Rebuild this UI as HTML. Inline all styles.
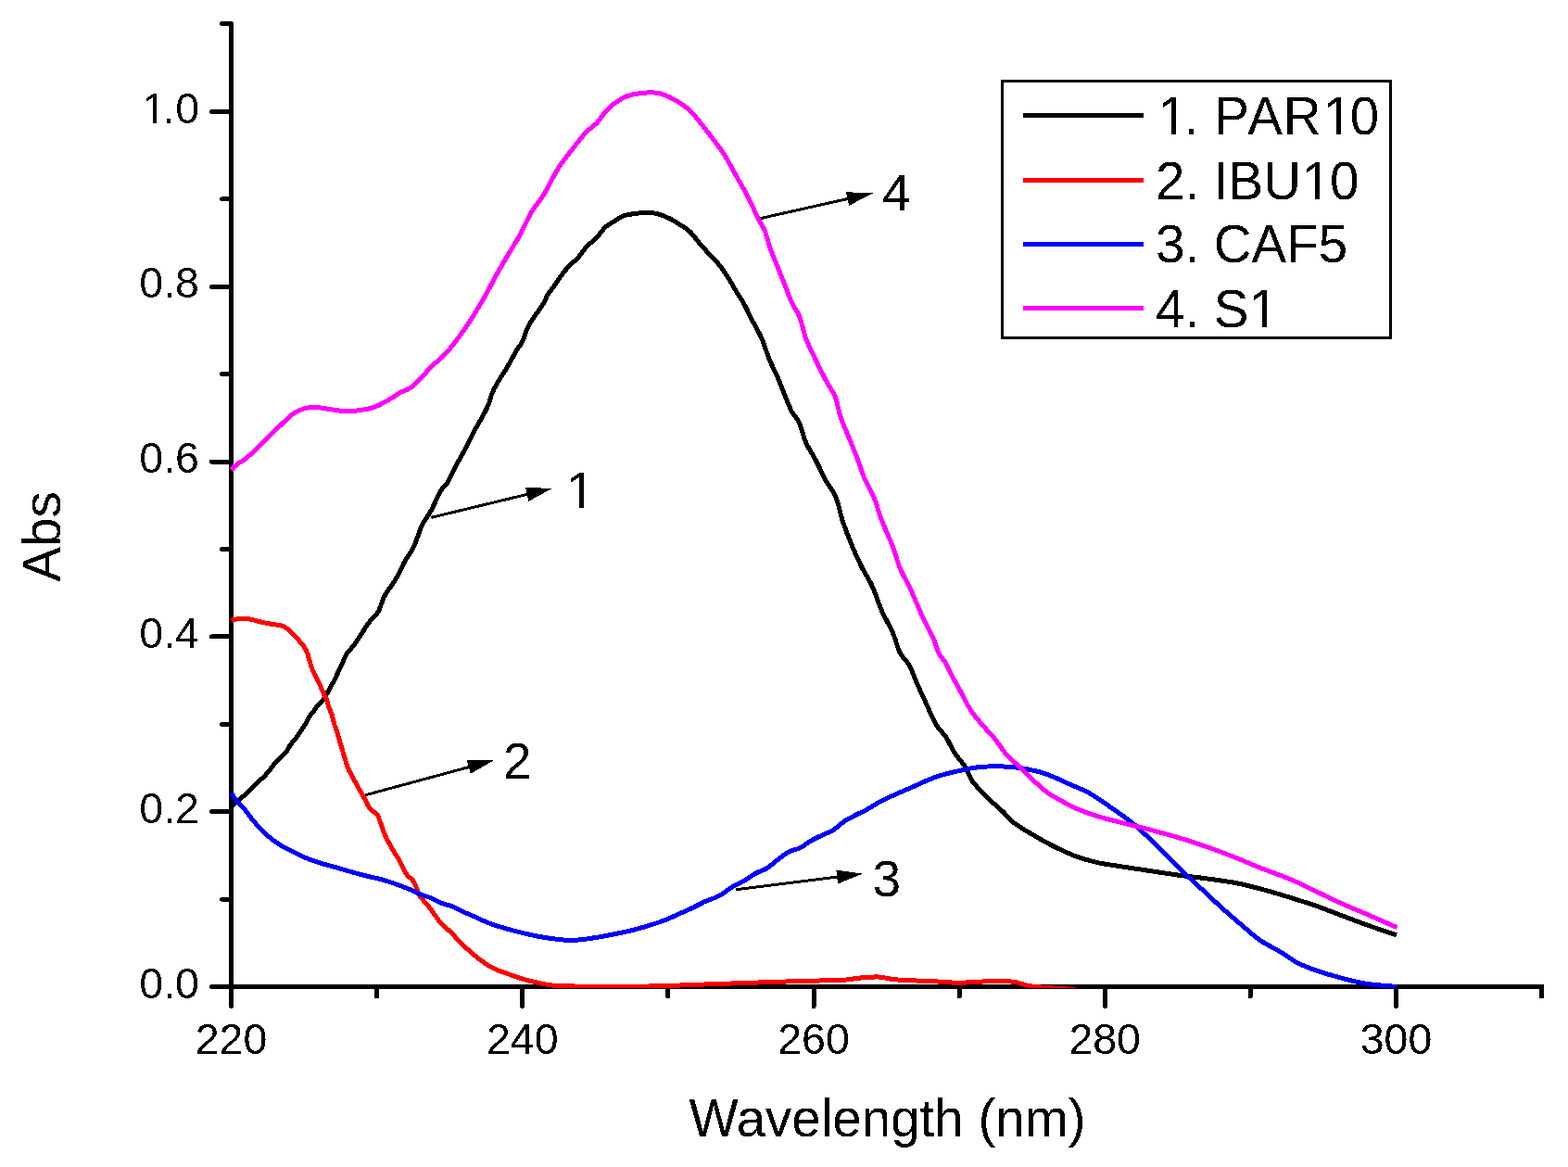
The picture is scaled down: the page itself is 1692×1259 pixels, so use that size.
<!DOCTYPE html>
<html><head><meta charset="utf-8"><title>Abs vs Wavelength</title>
<style>
html,body{margin:0;padding:0;background:#fff;}
body{width:1692px;height:1259px;overflow:hidden;}
svg{display:block;}
text{font-family:"Liberation Sans",Arial,sans-serif;fill:#000;}
.t{filter:url(#bin);}
</style></head><body>
<svg width="1692" height="1259" viewBox="0 0 1692 1259" shape-rendering="crispEdges">
<rect width="1692" height="1259" fill="#fff"/>
<g stroke="#000" stroke-width="5" stroke-linecap="round">
<line x1="249.5" y1="25.5" x2="249.5" y2="1067.0" stroke-linecap="butt"/><line x1="247.0" y1="1064.5" x2="1666.1" y2="1064.5" stroke-linecap="butt"/>
<line x1="406.6" y1="1064.5" x2="406.6" y2="1075.0"/>
<line x1="563.8" y1="1064.5" x2="563.8" y2="1085.5"/>
<line x1="720.9" y1="1064.5" x2="720.9" y2="1075.0"/>
<line x1="878.0" y1="1064.5" x2="878.0" y2="1085.5"/>
<line x1="1035.1" y1="1064.5" x2="1035.1" y2="1075.0"/>
<line x1="1192.2" y1="1064.5" x2="1192.2" y2="1085.5"/>
<line x1="1349.4" y1="1064.5" x2="1349.4" y2="1075.0"/>
<line x1="1506.5" y1="1064.5" x2="1506.5" y2="1085.5"/>
<line x1="1663.6" y1="1064.5" x2="1663.6" y2="1075.0"/>
<line x1="249.5" y1="1064.5" x2="249.5" y2="1085.5"/>
<line x1="228.5" y1="1064.5" x2="249.5" y2="1064.5"/>
<line x1="239.6" y1="970.1" x2="249.5" y2="970.1"/>
<line x1="228.5" y1="875.7" x2="249.5" y2="875.7"/>
<line x1="239.6" y1="781.3" x2="249.5" y2="781.3"/>
<line x1="228.5" y1="686.9" x2="249.5" y2="686.9"/>
<line x1="239.6" y1="592.5" x2="249.5" y2="592.5"/>
<line x1="228.5" y1="498.1" x2="249.5" y2="498.1"/>
<line x1="239.6" y1="403.7" x2="249.5" y2="403.7"/>
<line x1="228.5" y1="309.3" x2="249.5" y2="309.3"/>
<line x1="239.6" y1="214.9" x2="249.5" y2="214.9"/>
<line x1="228.5" y1="120.5" x2="249.5" y2="120.5"/>
<line x1="239.6" y1="25.6" x2="249.5" y2="25.6"/>
</g>
<defs><filter id="bin" x="0" y="0" width="1692" height="1259" filterUnits="userSpaceOnUse" color-interpolation-filters="sRGB"><feComponentTransfer><feFuncA type="discrete" tableValues="0 1"/></feComponentTransfer></filter><clipPath id="plotclip"><rect x="0" y="0" width="1692" height="1066"/></clipPath></defs>
<g fill="none" stroke-width="5" stroke-linejoin="round" stroke-linecap="butt" clip-path="url(#plotclip)" shape-rendering="crispEdges">
<path stroke="#000000" d="M250.5,869.0 C251.8,867.9 256.0,864.3 258.5,862.2 C261.0,860.1 263.7,858.1 265.7,856.3 C267.7,854.5 268.3,853.6 270.4,851.5 C272.5,849.4 276.0,845.8 278.4,843.5 C280.8,841.2 282.6,840.1 284.7,838.0 C286.8,835.9 289.2,833.0 291.1,830.8 C293.0,828.5 294.0,826.6 295.8,824.5 C297.6,822.4 300.1,820.2 302.2,818.1 C304.3,816.0 306.6,814.2 308.5,811.8 C310.4,809.4 311.4,806.4 313.3,803.8 C315.2,801.1 317.8,798.4 319.7,795.9 C321.6,793.4 323.0,790.9 324.6,788.5 C326.2,786.1 327.9,783.9 329.5,781.3 C331.1,778.6 332.7,775.1 334.3,772.6 C335.9,770.1 337.5,768.4 339.1,766.3 C340.7,764.2 342.2,761.8 343.8,759.9 C345.4,758.0 347.0,757.2 348.6,755.1 C350.2,753.0 351.9,749.7 353.4,747.2 C354.8,744.7 356.0,742.4 357.3,740.0 C358.6,737.6 360.0,735.5 361.3,732.9 C362.6,730.3 364.0,727.0 365.3,724.2 C366.6,721.4 368.0,718.9 369.2,716.2 C370.4,713.6 371.3,710.4 372.4,708.3 C373.5,706.2 374.3,705.2 375.6,703.5 C376.9,701.8 378.8,700.0 380.4,697.9 C382.0,695.8 382.5,695.5 385.5,691.0 C388.5,686.5 394.8,676.1 398.6,670.9 C402.4,665.7 405.5,664.5 408.1,660.0 C410.8,655.5 411.9,648.9 414.5,643.8 C417.1,638.7 421.4,633.6 424.0,629.5 C426.6,625.4 428.2,623.2 430.4,619.0 C432.6,614.8 434.7,609.3 437.4,604.4 C440.1,599.5 443.5,596.2 446.5,589.8 C449.5,583.4 452.6,572.5 455.6,566.1 C458.7,559.7 461.5,557.6 464.8,551.5 C468.1,545.4 472.7,534.7 475.7,529.5 C478.7,524.3 480.2,524.9 483.0,520.4 C485.8,515.9 489.1,508.0 492.2,502.2 C495.2,496.4 498.3,491.5 501.3,485.7 C504.3,479.9 507.0,473.8 510.4,467.5 C513.8,461.2 518.5,453.3 521.4,448.0 C524.2,442.7 526.0,439.4 527.5,435.6 C529.0,431.8 529.1,429.1 530.6,425.3 C532.1,421.5 534.5,416.9 536.8,412.9 C539.0,408.9 541.7,405.4 544.1,401.5 C546.5,397.6 549.1,393.1 551.3,389.2 C553.5,385.2 555.4,381.2 557.5,377.8 C559.6,374.4 562.0,371.9 563.7,368.5 C565.4,365.1 566.2,360.8 567.8,357.2 C569.3,353.6 570.9,350.2 573.0,346.8 C575.1,343.4 577.8,340.0 580.2,336.5 C582.6,333.0 585.6,329.1 587.4,326.0 C589.2,322.9 589.2,321.0 591.0,318.0 C592.8,315.0 595.9,311.7 598.3,308.2 C600.7,304.7 602.9,300.8 605.6,297.2 C608.3,293.6 611.7,289.5 614.7,286.3 C617.8,283.1 620.9,281.4 623.9,278.0 C626.9,274.6 629.6,269.8 633.0,266.2 C636.4,262.6 640.6,259.6 644.0,256.1 C647.4,252.6 650.1,247.9 653.1,245.1 C656.1,242.3 658.9,241.2 662.2,239.2 C665.6,237.1 669.4,234.2 673.2,232.8 C677.0,231.4 680.8,231.1 685.1,230.5 C689.4,229.9 694.5,229.1 698.8,229.2 C703.1,229.3 707.2,230.0 711.1,231.1 C715.0,232.2 718.5,233.8 722.2,235.6 C725.9,237.4 729.7,239.8 733.4,242.2 C737.1,244.6 740.8,246.5 744.5,250.0 C748.2,253.5 751.9,259.1 755.6,263.4 C759.3,267.7 763.0,271.5 766.7,275.6 C770.4,279.7 774.5,283.5 777.8,287.8 C781.1,292.1 783.9,296.8 786.7,301.2 C789.5,305.6 791.9,310.2 794.5,314.5 C797.1,318.8 799.5,321.8 802.3,326.8 C805.1,331.8 807.9,338.2 811.2,344.6 C814.5,351.0 818.8,357.9 821.9,365.0 C825.0,372.1 826.9,379.6 829.9,386.9 C832.9,394.2 836.8,401.8 839.8,408.7 C842.8,415.6 845.2,422.6 847.7,428.6 C850.2,434.6 852.2,439.9 854.7,444.5 C857.2,449.1 860.1,450.9 862.6,456.4 C865.1,461.9 866.7,470.7 869.6,477.3 C872.5,483.9 876.2,488.7 879.9,495.8 C883.6,502.9 888.2,513.1 891.8,519.7 C895.4,526.3 898.7,528.2 901.7,535.5 C904.7,542.8 906.7,554.3 909.7,563.3 C912.7,572.2 916.3,581.2 919.6,589.2 C922.9,597.2 925.9,603.7 929.5,611.0 C933.1,618.3 937.8,624.9 941.4,632.9 C945.0,640.9 947.8,650.4 951.4,658.7 C955.0,667.0 960.0,674.9 963.3,682.5 C966.6,690.1 968.2,698.6 971.2,704.4 C974.2,710.2 978.1,712.1 981.1,717.5 C984.1,722.9 986.2,729.9 989.1,736.5 C992.0,743.1 995.2,749.8 998.6,757.2 C1002.0,764.6 1006.0,774.6 1009.7,781.0 C1013.4,787.4 1017.3,790.0 1020.8,795.3 C1024.2,800.6 1027.0,807.5 1030.4,812.8 C1033.9,818.1 1038.3,822.1 1041.5,827.1 C1044.7,832.1 1045.4,837.5 1049.4,843.0 C1053.4,848.5 1060.0,855.1 1065.3,860.4 C1070.6,865.7 1076.4,870.2 1081.2,874.7 C1086.0,879.2 1089.1,883.6 1093.9,887.5 C1098.7,891.4 1103.0,893.7 1109.8,897.8 C1116.6,901.9 1126.6,907.7 1135.0,912.0 C1143.4,916.3 1151.9,920.3 1160.0,923.4 C1168.1,926.5 1175.8,928.6 1183.8,930.5 C1191.8,932.4 1198.4,933.0 1207.7,934.5 C1217.0,936.0 1228.8,937.7 1239.4,939.3 C1250.0,940.9 1260.6,942.6 1271.2,944.1 C1281.8,945.6 1292.4,946.5 1303.0,948.0 C1313.6,949.5 1324.0,950.7 1334.7,952.8 C1345.4,954.9 1357.1,958.1 1367.0,960.8 C1376.9,963.5 1385.0,966.1 1394.0,968.9 C1403.0,971.7 1412.0,974.5 1421.0,977.6 C1430.0,980.8 1439.0,984.4 1448.0,987.8 C1457.0,991.2 1465.2,994.4 1475.0,997.9 C1484.8,1001.4 1501.5,1006.9 1506.8,1008.7"/>
<path stroke="#ff0000" d="M249.5,669.4 C250.1,669.2 251.5,668.7 253.0,668.4 C254.5,668.1 256.1,667.7 258.3,667.6 C260.5,667.5 264.1,667.5 266.3,667.6 C268.5,667.7 269.4,667.9 271.6,668.4 C273.8,668.9 276.9,669.9 279.6,670.5 C282.3,671.1 285.0,671.8 287.6,672.3 C290.2,672.8 293.0,673.3 295.5,673.7 C298.0,674.1 300.3,674.2 302.4,674.7 C304.4,675.2 306.3,675.8 307.8,676.6 C309.3,677.5 310.0,678.5 311.5,679.8 C313.0,681.1 315.0,682.8 316.8,684.6 C318.6,686.4 320.3,688.4 322.1,690.4 C323.9,692.4 326.1,695.0 327.4,696.8 C328.7,698.6 329.3,699.5 330.1,701.1 C330.9,702.7 331.5,704.3 332.2,706.4 C332.9,708.5 333.4,711.0 334.3,713.8 C335.2,716.6 336.3,720.5 337.5,723.4 C338.7,726.3 340.1,728.7 341.4,731.3 C342.7,733.9 344.1,736.3 345.4,739.2 C346.7,742.1 348.2,746.1 349.4,748.8 C350.6,751.4 351.7,752.7 352.6,755.1 C353.5,757.5 354.0,760.5 354.9,763.1 C355.8,765.8 357.1,768.0 358.1,771.0 C359.1,774.0 359.8,777.9 360.7,781.0 C361.6,784.1 362.7,786.5 363.6,789.5 C364.6,792.5 365.4,795.9 366.4,799.1 C367.3,802.3 368.3,805.4 369.3,808.6 C370.3,811.8 371.2,814.9 372.2,818.1 C373.1,821.3 373.7,824.5 375.0,827.7 C376.3,830.9 378.2,834.2 379.8,837.2 C381.4,840.2 383.0,842.9 384.6,845.8 C386.2,848.7 387.7,851.5 389.3,854.4 C390.9,857.2 392.7,860.2 394.1,862.9 C395.5,865.6 396.5,868.5 397.9,870.6 C399.3,872.7 401.1,873.9 402.7,875.3 C404.3,876.7 406.1,877.2 407.4,879.1 C408.7,881.0 409.5,884.6 410.3,886.8 C411.1,889.0 411.3,889.8 412.2,892.2 C413.1,894.6 414.3,898.1 415.6,901.1 C416.9,904.1 418.5,907.2 420.0,910.0 C421.5,912.8 422.8,915.0 424.5,917.8 C426.2,920.6 428.3,923.7 430.0,926.7 C431.7,929.7 433.0,932.8 434.5,935.6 C436.0,938.4 437.0,941.0 438.9,943.4 C440.8,945.8 443.9,947.9 445.6,950.1 C447.3,952.3 447.8,954.1 448.9,956.7 C450.0,959.3 451.0,963.2 452.3,965.6 C453.6,968.0 454.9,969.0 456.7,971.2 C458.5,973.4 461.3,976.4 463.4,979.0 C465.4,981.6 467.1,984.2 469.0,986.8 C470.9,989.4 472.5,992.2 474.5,994.6 C476.5,997.0 479.0,999.2 481.2,1001.2 C483.4,1003.2 485.7,1004.6 487.9,1006.8 C490.1,1009.0 492.3,1012.2 494.5,1014.6 C496.7,1017.0 499.0,1019.3 501.2,1021.3 C503.4,1023.3 505.9,1025.0 507.9,1026.8 C509.9,1028.5 509.7,1029.0 513.4,1031.8 C517.1,1034.6 524.5,1040.4 530.1,1043.5 C535.7,1046.6 541.2,1048.1 546.8,1050.2 C552.4,1052.3 557.9,1054.3 563.5,1056.0 C569.1,1057.7 574.7,1059.0 580.2,1060.2 C585.8,1061.4 590.2,1062.6 596.8,1063.2 C603.4,1063.8 602.8,1063.9 620.0,1064.0 C637.2,1064.1 676.7,1064.3 700.0,1064.0 C723.3,1063.7 731.7,1063.0 760.0,1062.0 C788.3,1061.0 845.8,1059.0 870.0,1058.3 C894.2,1057.6 895.4,1058.2 905.1,1057.7 C914.9,1057.2 921.4,1055.6 928.5,1055.0 C935.6,1054.4 941.5,1053.7 948.0,1054.0 C954.5,1054.3 957.8,1056.1 967.5,1056.9 C977.2,1057.7 995.1,1058.2 1006.5,1058.7 C1017.9,1059.2 1024.4,1060.3 1035.8,1060.2 C1047.2,1060.1 1065.0,1058.5 1074.8,1058.3 C1084.5,1058.1 1089.9,1058.8 1094.3,1059.3 C1098.7,1059.8 1099.0,1060.5 1101.0,1061.0 C1103.0,1061.5 1104.2,1062.0 1106.0,1062.5 C1107.8,1063.0 1109.7,1063.4 1112.0,1063.8 C1114.3,1064.2 1117.0,1064.5 1120.0,1064.8 C1123.0,1065.1 1126.3,1065.2 1130.0,1065.5 C1133.7,1065.8 1137.8,1066.1 1142.0,1066.4 C1146.2,1066.7 1151.3,1066.9 1155.0,1067.2 C1158.7,1067.5 1160.7,1068.0 1164.0,1068.5 C1167.3,1069.0 1173.2,1069.8 1175.0,1070.0"/>
<path stroke="#0000ff" d="M249.8,855.3 C250.6,856.6 252.1,859.9 254.5,862.9 C256.9,865.9 260.9,869.6 264.1,873.4 C267.3,877.2 270.4,882.0 273.6,885.8 C276.8,889.6 279.9,893.0 283.1,896.2 C286.3,899.4 289.5,902.2 292.7,904.8 C295.9,907.3 298.2,909.1 302.2,911.5 C306.2,913.9 311.7,916.7 316.5,919.1 C321.3,921.5 326.0,923.8 330.8,925.8 C335.6,927.8 340.3,929.5 345.1,931.0 C349.9,932.5 354.6,933.5 359.4,934.9 C364.2,936.2 368.1,937.5 373.7,939.1 C379.3,940.7 386.8,942.9 392.8,944.4 C398.9,945.9 405.3,947.2 410.0,948.4 C414.7,949.6 417.4,950.5 421.1,951.7 C424.8,952.9 428.5,954.2 432.2,955.6 C435.9,957.0 439.7,958.5 443.4,960.1 C447.1,961.7 450.8,963.6 454.5,965.1 C458.2,966.6 461.9,967.4 465.6,969.0 C469.3,970.6 473.0,973.0 476.7,974.5 C480.4,976.0 484.2,976.4 487.9,977.9 C491.6,979.4 495.4,981.7 499.0,983.4 C502.6,985.1 504.4,985.7 509.6,987.9 C514.8,990.1 522.5,994.1 530.1,996.8 C537.7,999.5 546.8,1002.1 555.1,1004.3 C563.5,1006.5 572.0,1008.5 580.2,1010.1 C588.4,1011.7 597.9,1013.0 604.3,1013.7 C610.7,1014.4 613.8,1014.5 618.6,1014.4 C623.4,1014.3 628.1,1013.6 632.9,1013.0 C637.7,1012.4 642.4,1011.6 647.2,1010.8 C652.0,1010.0 656.7,1009.0 661.5,1008.0 C666.3,1007.0 671.0,1006.2 675.8,1005.1 C680.6,1004.0 685.3,1002.8 690.1,1001.5 C694.9,1000.2 699.6,998.8 704.4,997.2 C709.2,995.7 713.9,994.1 718.7,992.2 C723.5,990.3 728.2,987.9 733.0,985.8 C737.8,983.7 742.5,981.7 747.3,979.4 C752.1,977.1 756.9,974.4 761.6,972.2 C766.4,970.1 770.8,969.2 775.8,966.5 C780.8,963.8 787.2,958.6 791.9,955.8 C796.6,953.0 799.8,952.1 803.8,949.8 C807.8,947.5 811.7,944.3 815.7,942.1 C819.7,939.9 823.6,939.2 827.6,936.7 C831.6,934.2 835.6,930.2 839.6,927.2 C843.6,924.2 847.5,921.0 851.5,918.9 C855.5,916.8 859.4,916.7 863.4,914.7 C867.4,912.7 871.3,909.3 875.3,907.0 C879.3,904.7 883.2,902.9 887.2,901.0 C891.2,899.1 895.1,898.1 899.1,895.6 C903.1,893.1 907.0,888.8 911.0,886.1 C915.0,883.4 918.9,881.7 922.9,879.6 C926.9,877.5 930.9,875.8 934.9,873.6 C938.9,871.4 942.8,868.7 946.8,866.5 C950.8,864.3 954.7,862.4 958.7,860.5 C962.7,858.6 966.1,857.1 970.6,855.1 C975.1,853.1 979.4,851.3 985.9,848.5 C992.4,845.7 1001.8,841.0 1009.7,838.2 C1017.6,835.4 1026.1,833.6 1033.5,831.9 C1040.9,830.2 1046.8,828.8 1054.2,827.9 C1061.6,827.0 1070.3,826.7 1078.0,826.8 C1085.7,826.9 1093.1,827.4 1100.3,828.4 C1107.5,829.4 1114.8,831.0 1120.9,832.6 C1127.0,834.2 1131.5,836.1 1136.8,838.2 C1142.1,840.3 1146.2,842.5 1152.7,845.4 C1159.2,848.3 1168.1,851.5 1175.9,855.9 C1183.7,860.3 1191.8,866.2 1199.7,871.8 C1207.6,877.3 1215.5,882.6 1223.5,889.2 C1231.5,895.8 1239.5,903.8 1247.4,911.5 C1255.4,919.2 1263.3,927.6 1271.2,935.3 C1279.1,943.0 1287.0,950.2 1295.0,957.6 C1303.0,965.0 1311.0,972.7 1318.9,979.8 C1326.9,986.9 1335.8,994.6 1342.7,1000.4 C1349.6,1006.2 1354.0,1010.5 1360.3,1014.8 C1366.6,1019.1 1373.8,1022.2 1380.5,1026.3 C1387.2,1030.3 1394.0,1035.6 1400.8,1039.1 C1407.5,1042.6 1413.1,1044.5 1421.0,1047.2 C1428.9,1049.9 1439.0,1052.9 1448.0,1055.3 C1457.0,1057.7 1465.1,1059.9 1475.0,1061.4 C1484.9,1062.9 1502.1,1064.0 1507.5,1064.5"/>
<path stroke="#ff00ff" d="M249.5,507.0 C250.7,505.9 253.8,502.4 256.5,500.4 C259.1,498.3 260.9,498.4 265.4,494.7 C269.8,491.0 277.9,483.2 283.2,478.1 C288.5,473.0 291.7,469.5 297.2,464.2 C302.7,458.9 310.9,450.3 316.2,446.4 C321.5,442.5 324.9,441.9 328.9,440.7 C332.9,439.5 336.1,439.3 340.4,439.4 C344.6,439.5 348.7,440.6 354.4,441.3 C360.1,442.0 368.3,443.7 374.7,443.8 C381.1,443.9 387.4,442.7 392.5,441.9 C397.6,441.1 399.9,441.0 405.2,438.8 C410.5,436.6 419.7,431.2 424.2,428.6 C428.7,426.0 429.4,424.7 432.0,423.3 C434.6,421.9 436.9,421.8 439.5,420.3 C442.1,418.8 443.5,418.5 447.9,414.4 C452.3,410.3 459.8,401.5 465.7,395.5 C471.6,389.5 477.0,386.4 483.6,378.6 C490.2,370.8 499.2,358.1 505.5,348.8 C511.8,339.5 516.4,331.6 521.4,323.0 C526.4,314.4 530.7,305.5 535.3,297.2 C539.9,288.9 544.9,280.6 549.2,273.3 C553.5,266.0 557.1,260.8 561.1,253.5 C565.1,246.2 568.7,237.0 573.0,229.7 C577.3,222.4 582.4,217.2 586.9,209.8 C591.4,202.4 596.3,191.8 600.0,185.5 C603.7,179.2 605.7,176.6 608.9,172.2 C612.1,167.8 615.3,163.8 619.2,158.9 C623.1,154.0 628.3,147.0 632.5,142.6 C636.7,138.2 640.4,136.5 644.3,132.3 C648.2,128.1 651.7,121.8 656.1,117.5 C660.5,113.2 666.5,109.0 670.9,106.4 C675.3,103.8 677.8,103.1 682.7,102.0 C687.6,100.9 695.3,99.9 700.5,99.8 C705.7,99.7 709.1,99.9 713.8,101.3 C718.5,102.7 723.3,104.8 728.5,107.9 C733.7,111.0 739.1,114.2 744.8,119.7 C750.5,125.2 756.6,133.6 762.5,141.1 C768.4,148.6 775.4,157.4 780.3,164.8 C785.2,172.2 787.7,177.6 792.1,185.5 C796.5,193.4 802.5,203.5 806.9,212.1 C811.3,220.7 815.7,231.2 818.7,237.2 C821.7,243.2 822.7,242.5 824.9,247.9 C827.1,253.3 829.3,262.8 831.8,269.7 C834.3,276.6 837.1,283.0 839.8,289.6 C842.4,296.2 845.2,303.1 847.7,309.4 C850.2,315.7 852.2,322.0 854.7,327.3 C857.2,332.6 860.1,334.9 862.6,341.2 C865.1,347.5 866.8,357.5 869.6,365.1 C872.4,372.7 875.9,379.3 879.5,386.9 C883.1,394.5 887.8,403.8 891.4,410.7 C895.0,417.6 898.8,422.0 901.4,428.6 C904.0,435.2 904.5,442.4 907.3,450.5 C910.1,458.6 915.2,469.8 918.2,477.3 C921.2,484.9 923.0,489.1 925.5,495.8 C928.0,502.5 930.5,510.8 933.5,517.7 C936.5,524.7 940.4,530.2 943.4,537.5 C946.4,544.8 948.1,552.8 951.4,561.4 C954.7,570.0 960.0,580.6 963.3,589.2 C966.6,597.8 967.9,605.1 971.2,613.0 C974.5,620.9 979.1,628.2 983.1,636.8 C987.1,645.4 991.1,656.0 995.1,664.6 C999.1,673.2 1004.0,681.9 1007.0,688.5 C1010.0,695.1 1010.6,699.8 1012.9,704.4 C1015.2,709.0 1018.1,711.3 1020.8,715.9 C1023.4,720.5 1025.9,726.2 1028.8,731.8 C1031.7,737.3 1035.1,743.4 1038.3,749.2 C1041.5,755.0 1044.1,761.1 1047.8,766.7 C1051.5,772.3 1056.2,777.6 1060.5,782.6 C1064.8,787.6 1068.8,791.3 1073.3,796.9 C1077.8,802.5 1083.1,811.0 1087.6,816.0 C1092.1,821.0 1096.1,823.1 1100.3,827.1 C1104.5,831.1 1108.2,835.3 1113.0,839.8 C1117.8,844.3 1123.6,850.1 1128.9,854.1 C1134.2,858.1 1139.5,860.7 1144.7,863.6 C1149.9,866.5 1153.5,869.0 1160.0,871.8 C1166.5,874.6 1175.8,878.0 1183.8,880.5 C1191.8,883.0 1198.4,884.5 1207.7,886.9 C1217.0,889.3 1228.8,892.0 1239.4,894.8 C1250.0,897.6 1260.6,900.3 1271.2,903.5 C1281.8,906.7 1292.4,910.2 1303.0,913.9 C1313.6,917.6 1325.3,922.1 1334.7,925.8 C1344.1,929.5 1349.5,932.2 1359.4,936.1 C1369.3,940.0 1383.7,945.0 1394.0,949.3 C1404.3,953.6 1412.0,957.8 1421.0,962.1 C1430.0,966.4 1439.0,970.9 1448.0,974.9 C1457.0,978.9 1465.1,982.1 1475.0,986.4 C1484.9,990.7 1502.1,998.2 1507.5,1000.6"/>
</g>
<g class="t" font-size="46.5">
<text x="249.5" y="1136.5" text-anchor="middle">220</text>
<text x="563.8" y="1136.5" text-anchor="middle">240</text>
<text x="878.0" y="1136.5" text-anchor="middle">260</text>
<text x="1192.2" y="1136.5" text-anchor="middle">280</text>
<text x="1506.5" y="1136.5" text-anchor="middle">300</text>
<text x="215" y="1076.5" text-anchor="end">0.0</text>
<text x="215" y="887.7" text-anchor="end">0.2</text>
<text x="215" y="698.9" text-anchor="end">0.4</text>
<text x="215" y="510.1" text-anchor="end">0.6</text>
<text x="215" y="321.3" text-anchor="end">0.8</text>
<text x="212" y="132.5" text-anchor="end" dx="3 -3.8 0.8">1.0</text>
</g>
<g class="t" font-size="56.5">
<text x="957.5" y="1226" text-anchor="middle">Wavelength (nm)</text>
<text transform="translate(65,579) rotate(-90)" text-anchor="middle">Abs</text>
</g>
<line x1="465.4" y1="558.3" x2="570.7" y2="532.9" stroke="#000" stroke-width="3"/><polygon points="596.0,526.8 570.5,540.7 567.0,526.1" fill="#000"/>
<line x1="394.1" y1="857.8" x2="507.7" y2="827.1" stroke="#000" stroke-width="3"/><polygon points="532.8,820.3 507.7,834.8 503.8,820.4" fill="#000"/>
<line x1="794.2" y1="959.7" x2="905.2" y2="945.8" stroke="#000" stroke-width="3"/><polygon points="931.0,942.6 904.1,953.5 902.3,938.6" fill="#000"/>
<line x1="820.7" y1="235.6" x2="916.4" y2="214.1" stroke="#000" stroke-width="3"/><polygon points="941.8,208.4 916.1,221.9 912.8,207.2" fill="#000"/>
<g class="t" font-size="55">
<text x="611" y="548">1</text>
<text x="543" y="840">2</text>
<text x="941.5" y="967">3</text>
<text x="952" y="227">4</text>
</g>
<rect x="1081.4" y="87.4" width="418.8" height="276.9" fill="none" stroke="#000" stroke-width="3"/>
<g stroke-width="5">
<line x1="1104" y1="124" x2="1234" y2="124" stroke="#000"/>
<line x1="1104" y1="194" x2="1234" y2="194" stroke="#ff0000"/>
<line x1="1104" y1="263" x2="1234" y2="263" stroke="#0000ff"/>
<line x1="1104" y1="332.5" x2="1234" y2="332.5" stroke="#ff00ff"/>
</g>
<g class="t" font-size="56.5">
<text x="1247" y="145" dx="2.5 -3.2 0 1.2 2.5 0.8 2.2 -2.5">1. PAR10</text>
<text x="1247" y="214.5" dx="0 0 0 0 0 0 1 -1.5">2. IBU10</text>
<text x="1247" y="283">3. CAF5</text>
<text x="1247" y="352.5">4. S1</text>
</g>
<g fill="#fff">
<rect x="155.93" y="127.73" width="9.09" height="6.07"/>
<rect x="169.13" y="127.73" width="8.72" height="6.07"/>
<rect x="614.23" y="542.59" width="10.60" height="6.71"/>
<rect x="629.69" y="542.59" width="10.17" height="6.71"/>
<rect x="1252.84" y="139.48" width="10.87" height="6.82"/>
<rect x="1268.70" y="139.48" width="10.43" height="6.82"/>
<rect x="1431.18" y="139.48" width="10.87" height="6.82"/>
<rect x="1447.04" y="139.48" width="10.43" height="6.82"/>
<rect x="1408.39" y="208.98" width="10.87" height="6.82"/>
<rect x="1424.25" y="208.98" width="10.43" height="6.82"/>
<rect x="1350.84" y="346.98" width="10.87" height="6.82"/>
<rect x="1366.70" y="346.98" width="10.43" height="6.82"/>
</g>
</svg>
</body></html>
